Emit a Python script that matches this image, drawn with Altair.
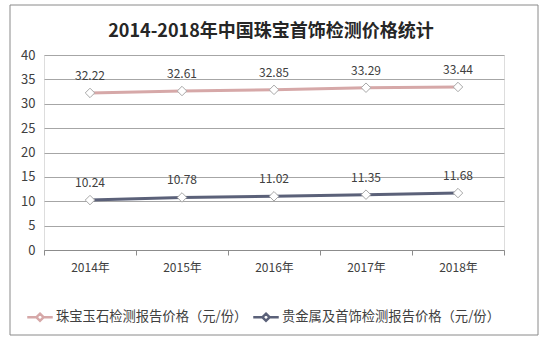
import altair as alt
import pandas as pd

years = ["2014年", "2015年", "2016年", "2017年", "2018年"]
series_names = ["珠宝玉石检测报告价格（元/份）", "贵金属及首饰检测报告价格（元/份）"]
jewel = [32.22, 32.61, 32.85, 33.29, 33.44]
metal = [10.24, 10.78, 11.02, 11.35, 11.68]
colors = ["#d6a8a8", "#5b6179"]

rows = []
for y, v in zip(years, jewel):
    rows.append({"year": y, "series": series_names[0], "value": v})
for y, v in zip(years, metal):
    rows.append({"year": y, "series": series_names[1], "value": v})
df = pd.DataFrame(rows)

FONT = "Noto Sans CJK SC"

x_enc = alt.X("year:N", sort=years, bandPosition=0.5,
              scale=alt.Scale(type="band", paddingInner=0, paddingOuter=0),
              axis=alt.Axis(title=None, tickBand="extent", domainColor="#8c8c8c",
                            tickColor="#8c8c8c", tickSize=5, labelPadding=7,
                            labelFontSize=12, labelColor="#404040", labelFont=FONT,
                            labelAngle=0, grid=False))
y_enc = alt.Y("value:Q", scale=alt.Scale(domain=[0, 40]),
              axis=alt.Axis(title=None, values=[0, 5, 10, 15, 20, 25, 30, 35, 40],
                            domain=False, ticks=False, gridColor="#a6a6a6",
                            labelFontSize=13, labelColor="#404040", labelFont=FONT,
                            labelPadding=9))
color_enc = alt.Color("series:N", sort=series_names,
                      scale=alt.Scale(domain=series_names, range=colors),
                      legend=alt.Legend(title=None, orient="none", legendX=-18, legendY=248,
                                        direction="horizontal", columns=2, columnPadding=0,
                                        symbolType="M-1,0H-0.28M0.28,0H1M0,-0.28L0.28,0L0,0.28L-0.28,0Z",
                                        symbolSize=650, symbolStrokeWidth=2.5,
                                        labelFontSize=13.3, labelColor="#404040",
                                        labelFont=FONT, labelLimit=400, symbolOffset=0,
                                        labelOffset=2))

base = alt.Chart(df).encode(x=x_enc, y=y_enc)

lines = base.mark_line(strokeWidth=3).encode(color=color_enc)
points = base.mark_point(shape="diamond", filled=True, fill="white", stroke="#a8a8a8",
                         strokeWidth=1, size=90, opacity=1)
labels = base.mark_text(dy=-17, fontSize=12, color="#404040", font=FONT).encode(
    text=alt.Text("value:Q", format=".2f"))

border = alt.Chart(pd.DataFrame({"a": [0]})).mark_rect(
    fill=None, stroke="#8a8a8a", strokeWidth=1).encode(
    x=alt.value(-34), x2=alt.value(494), y=alt.value(-50), y2=alt.value(280))

chart = alt.layer(border, lines, points, labels).properties(
    width=460, height=195,
    autosize=alt.AutoSizeParams(type="none"),
    padding={"left": 44, "top": 55, "right": 40, "bottom": 95},
    title=alt.TitleParams("2014-2018年中国珠宝首饰检测价格统计", fontSize=18,
                          font=FONT, fontWeight="bold", color="#262626",
                          anchor="middle", offset=12, dy=48, dx=-3),
).configure_view(stroke=None).configure(background="white")

chart.save("out.html", embed_options={"renderer": "svg", "actions": False})
